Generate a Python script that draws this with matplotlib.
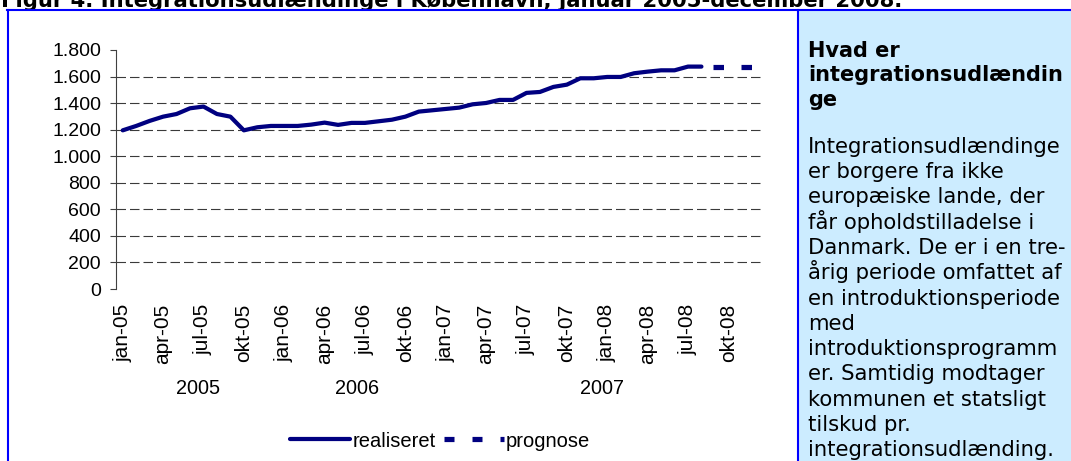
import matplotlib
matplotlib.use('Agg')
import matplotlib.pyplot as plt
from matplotlib.lines import Line2D
from matplotlib.patches import Rectangle
import matplotlib.transforms as mtransforms

W, H, DPI = 1071, 461, 100
plt.rcParams['lines.scale_dashes'] = False

# ---------------- data ----------------
title = "Figur 4. Integrationsudlændinge i København, januar 2005-december 2008."
tick_labels = ['jan-05', 'apr-05', 'jul-05', 'okt-05', 'jan-06', 'apr-06', 'jul-06', 'okt-06',
               'jan-07', 'apr-07', 'jul-07', 'okt-07', 'jan-08', 'apr-08', 'jul-08', 'okt-08']
realiseret = [1195, 1228, 1266, 1298, 1318, 1361, 1374, 1318, 1298, 1195, 1218, 1228,
              1228, 1228, 1238, 1253, 1236, 1251, 1251, 1263, 1275, 1298, 1336, 1346,
              1356, 1366, 1391, 1401, 1424, 1424, 1477, 1484, 1522, 1539, 1587, 1587,
              1597, 1597, 1625, 1637, 1647, 1647, 1675, 1675]
prognose = [1675, 1675, 1675, 1675, 1675]   # aug-08 .. dec-08
n_months = 48
y_ticks = [0, 200, 400, 600, 800, 1000, 1200, 1400, 1600, 1800]
years = ['2005', '2006', '2007']
year_pos = [5.6, 17.4, 35.6]
series_names = ['realiseret', 'prognose']

box_header = ['Hvad er', 'integrationsudlændin', 'ge']
box_body = ['Integrationsudlændinge', 'er borgere fra ikke', 'europæiske lande, der',
            'får opholdstilladelse i', 'Danmark. De er i en tre-', 'årig periode omfattet af',
            'en introduktionsperiode', 'med', 'introduktionsprogramm',
            'er. Samtidig modtager', 'kommunen et statsligt', 'tilskud pr.',
            'integrationsudlænding.']

NAVY = '#000080'
BLUE = '#0000FF'
CHART_FONT = ['Liberation Sans', 'DejaVu Sans']
BOX_FONT = ['DejaVu Sans']


def fx(px):
    return px / W


def fy(py):
    return 1 - py / H


def pt(px):
    return px * 72.0 / DPI


fig = plt.figure(figsize=(W / DPI, H / DPI), dpi=DPI)
fig.patch.set_facecolor('white')

# right info panel background
fig.add_artist(Rectangle((fx(798), fy(461)), fx(1071) - fx(798), fy(10) - fy(461),
                         transform=fig.transFigure, facecolor='#CCECFF',
                         edgecolor='none', zorder=0))
# blue frame lines
fig.add_artist(Line2D([fx(7), fx(1071)], [fy(10), fy(10)], color=BLUE, lw=1.5,
                      transform=fig.transFigure, zorder=5))
fig.add_artist(Line2D([fx(7.5), fx(7.5)], [fy(10), fy(461)], color=BLUE, lw=1.5,
                      transform=fig.transFigure, zorder=5))
fig.add_artist(Line2D([fx(798), fx(798)], [fy(10), fy(461)], color=BLUE, lw=1.5,
                      transform=fig.transFigure, zorder=5))

# title (partly cut at top, as in the reference)
fig.text(fx(1), fy(7.3), title, fontsize=15.2, fontweight='bold', family=BOX_FONT,
         ha='left', va='baseline', color='black')

# ---------------- chart ----------------
ax = fig.add_axes([fx(116), fy(289), fx(762) - fx(116), fy(50) - fy(289)])
ax.set_facecolor('white')
ax.set_xlim(-0.5, n_months - 0.5)
ax.set_ylim(y_ticks[0], y_ticks[-1])

for yv in y_ticks[1:-1]:
    ax.axhline(yv, color='#3a3a3a', lw=0.8, linestyle=(0, (pt(9.5), pt(4))), zorder=1)

real_x = list(range(len(realiseret)))
prog_x = list(range(len(realiseret) - 1, len(realiseret) - 1 + len(prognose)))
ax.plot(real_x, realiseret, color=NAVY, lw=pt(4.2), solid_capstyle='round',
        solid_joinstyle='round', zorder=3)
ax.plot(prog_x, prognose, color=NAVY, lw=pt(5.2), dash_capstyle='butt',
        linestyle=(pt(16), (pt(10.5), pt(17.5))), zorder=3)

for s in ['top', 'right', 'bottom']:
    ax.spines[s].set_visible(False)
ax.spines['left'].set_color('#404040')
ax.spines['left'].set_linewidth(0.8)

ax.set_yticks(y_ticks)
ax.set_yticklabels([f"{v:,}".replace(',', '.') for v in y_ticks])
ax.tick_params(axis='y', direction='out', length=pt(6), width=0.8, color='#404040',
               pad=pt(9), labelsize=14)
ax.set_xticks(list(range(0, n_months, 3)))
ax.set_xticklabels(tick_labels, rotation=90)
ax.tick_params(axis='x', length=0, pad=pt(14.5), labelsize=15)
for lab in ax.get_xticklabels() + ax.get_yticklabels():
    lab.set_family(CHART_FONT)
    lab.set_color('black')

trans = mtransforms.blended_transform_factory(ax.transData, fig.transFigure)
for ypos, ylab in zip(year_pos, years):
    ax.text(ypos, fy(388), ylab, transform=trans, ha='center', va='center',
            fontsize=14.3, family=CHART_FONT, color='black')

h1 = Line2D([], [], color=NAVY, lw=pt(4.2), solid_capstyle='round')
h2 = Line2D([], [], color=NAVY, lw=pt(5.2), dash_capstyle='butt',
            linestyle=(0, (pt(10), pt(18))))
fig.legend([h1, h2], series_names, loc='center', bbox_to_anchor=(fx(440), fy(441)),
           ncol=2, frameon=False, handlelength=3.0, handletextpad=0.1,
           columnspacing=0.4, borderaxespad=0, borderpad=0,
           prop={'family': CHART_FONT, 'size': 14.5})

# ---------------- info box text ----------------
header_base = [56.7, 81.2, 105.5]
for yb, line in zip(header_base, box_header):
    fig.text(fx(808), fy(yb), line, fontsize=15, fontweight='bold', family=BOX_FONT,
             ha='left', va='baseline', color='black')
for i, line in enumerate(box_body):
    fig.text(fx(808), fy(152.7 + i * 25.3), line, fontsize=15.2, family=BOX_FONT,
             ha='left', va='baseline', color='black')

fig.savefig('out.png', dpi=DPI, facecolor='white')
